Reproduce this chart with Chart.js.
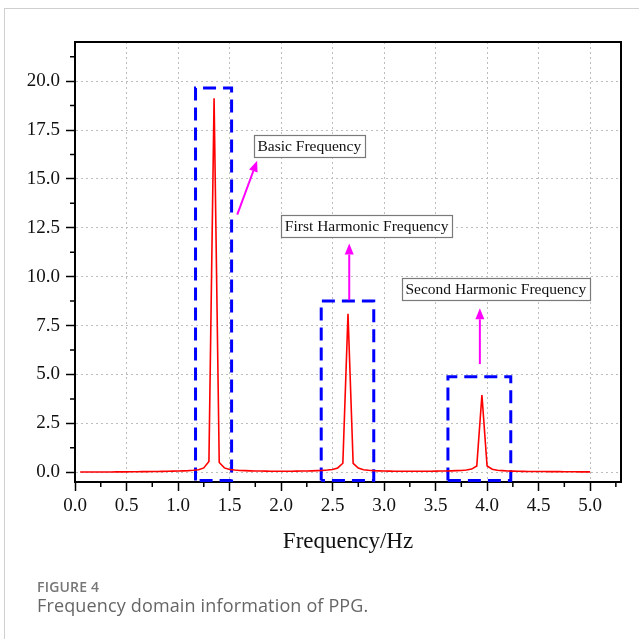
<!DOCTYPE html>
<html>
<head>
<meta charset="utf-8">
<script src="https://cdn.jsdelivr.net/npm/chart.js@4/dist/chart.umd.min.js"></script>
<style>
  html, body { margin: 0; padding: 0; background: #fff; }
  body { width: 639px; height: 639px; position: relative; overflow: hidden; }
  #card { position: absolute; left: 4px; top: 8px; width: 800px; height: 800px; border-left: 1px solid #cfcfcf; border-top: 1px solid #cfcfcf; }
  #c { position: absolute; left: 0; top: 0; }
  .cap1 { position: absolute; left: 37px; top: 580px; font: 600 14px "Open Sans", sans-serif; line-height: 14px; color: #777; letter-spacing: 0.2px; }
  .cap2 { position: absolute; left: 37px; top: 596px; font: 400 18px "Open Sans", sans-serif; line-height: 18px; color: #666; letter-spacing: 0.15px; }
</style>
</head>
<body>
<div id="card"></div>
<canvas id="c" width="639" height="639"></canvas>
<div class="cap1">FIGURE 4</div>
<div class="cap2">Frequency domain information of PPG.</div>
<script>
// ---- data ----
const freq = [0.05,0.10,0.15,0.20,0.25,0.30,0.35,0.40,0.45,0.50,0.55,0.60,0.65,0.70,0.75,0.80,0.85,0.90,0.95,1.00,
  1.05,1.10,1.15,1.20,1.25,1.30,1.35,1.40,1.45,1.50,1.55,1.60,1.65,1.70,1.75,1.80,1.85,1.90,1.95,2.00,
  2.05,2.10,2.15,2.20,2.25,2.30,2.35,2.40,2.45,2.50,2.55,2.60,2.65,2.70,2.75,2.80,2.85,2.90,2.95,3.00,
  3.05,3.10,3.15,3.20,3.25,3.30,3.35,3.40,3.45,3.50,3.55,3.60,3.65,3.70,3.75,3.80,3.85,3.90,3.95,4.00,
  4.05,4.10,4.15,4.20,4.25,4.30,4.35,4.40,4.45,4.50,4.55,4.60,4.65,4.70,4.75,4.80,4.85,4.90,4.95,5.00];
const amplitude = [0.01,0.01,0.01,0.01,0.01,0.015,0.015,0.02,0.02,0.02,0.025,0.025,0.03,0.03,0.035,0.04,0.045,0.05,0.055,0.06,
  0.07,0.08,0.10,0.13,0.22,0.55,19.12,0.50,0.22,0.14,0.11,0.09,0.08,0.07,0.065,0.06,0.055,0.05,0.05,0.05,
  0.05,0.05,0.055,0.06,0.065,0.07,0.08,0.09,0.11,0.14,0.22,0.46,8.10,0.45,0.21,0.13,0.10,0.08,0.07,0.06,
  0.055,0.05,0.05,0.05,0.05,0.05,0.05,0.05,0.05,0.055,0.06,0.065,0.07,0.08,0.09,0.11,0.16,0.32,3.95,0.32,
  0.15,0.10,0.08,0.065,0.055,0.05,0.045,0.04,0.04,0.035,0.035,0.03,0.03,0.03,0.025,0.025,0.025,0.02,0.02,0.02];

const xTicks = [0.0,0.5,1.0,1.5,2.0,2.5,3.0,3.5,4.0,4.5,5.0];
const yTicks = [0.0,2.5,5.0,7.5,10.0,12.5,15.0,17.5,20.0];
const xMinor = [0.25,0.75,1.25,1.75,2.25,2.75,3.25,3.75,4.25,4.75,5.25];
const yMinor = [1.25,3.75,6.25,8.75,11.25,13.75,16.25,18.75,21.25];

// dashed highlight boxes
const boxLeft   = [1.17, 2.39, 3.62];
const boxRight  = [1.52, 2.90, 4.23];
const boxTop    = [19.65, 8.75, 4.88];
const boxBottom = [-0.42, -0.42, -0.42];

// annotation arrows: start -> end (end = arrow tip)
const arrowX0 = [1.575, 2.662, 3.93];
const arrowY0 = [13.17, 8.80, 5.53];
const arrowX1 = [1.768, 2.662, 3.93];
const arrowY1 = [15.93, 11.69, 8.38];

// annotation labels (centre)
const labelText = ["Basic Frequency", "First Harmonic Frequency", "Second Harmonic Frequency"];
const labelX = [2.275, 2.831, 4.085];
const labelY = [16.69, 12.57, 9.39];

// ---- chart ----
const serif = '"Liberation Serif", "Times New Roman", serif';

const boxDatasets = boxLeft.map((x0, i) => ({
  type: 'line',
  data: [
    {x: x0, y: boxBottom[i]}, {x: x0, y: boxTop[i]},
    {x: boxRight[i], y: boxTop[i]}, {x: boxRight[i], y: boxBottom[i]},
    {x: x0, y: boxBottom[i]}
  ],
  borderColor: '#0000ff',
  borderWidth: 3,
  borderDash: [13, 7],
  pointRadius: 0,
  fill: false,
  tension: 0,
  clip: false,
  order: 1
}));

const extras = {
  id: 'extras',
  beforeDatasetsDraw(chart) {
    const {ctx, chartArea: a, scales: {x, y}} = chart;
    ctx.save();
    ctx.strokeStyle = '#000';
    ctx.lineWidth = 2;
    ctx.beginPath();
    ctx.moveTo(a.left - 1, a.top);
    ctx.lineTo(a.right, a.top);
    ctx.lineTo(a.right, a.bottom + 1);
    ctx.stroke();
    ctx.lineWidth = 1.5;
    ctx.beginPath();
    xMinor.forEach(v => { const p = x.getPixelForValue(v); ctx.moveTo(p, a.bottom); ctx.lineTo(p, a.bottom + 5); });
    yMinor.forEach(v => { const p = y.getPixelForValue(v); ctx.moveTo(a.left, p); ctx.lineTo(a.left - 5, p); });
    ctx.stroke();
    ctx.restore();
  },
  afterDatasetsDraw(chart) {
    const {ctx, scales: {x, y}} = chart;
    ctx.save();
    // arrows
    ctx.strokeStyle = '#ff00ff';
    ctx.fillStyle = '#ff00ff';
    ctx.lineWidth = 2;
    arrowX0.forEach((_, i) => {
      const x0 = x.getPixelForValue(arrowX0[i]), y0 = y.getPixelForValue(arrowY0[i]);
      const x1 = x.getPixelForValue(arrowX1[i]), y1 = y.getPixelForValue(arrowY1[i]);
      const ang = Math.atan2(y1 - y0, x1 - x0);
      const hl = 11, hw = 4.5;
      const bx = x1 - hl * Math.cos(ang), by = y1 - hl * Math.sin(ang);
      ctx.beginPath();
      ctx.moveTo(x0, y0);
      ctx.lineTo(bx, by);
      ctx.stroke();
      ctx.beginPath();
      ctx.moveTo(x1, y1);
      ctx.lineTo(bx + hw * Math.sin(ang), by - hw * Math.cos(ang));
      ctx.lineTo(bx - hw * Math.sin(ang), by + hw * Math.cos(ang));
      ctx.closePath();
      ctx.fill();
    });
    // labels
    ctx.font = '15.5px ' + serif;
    ctx.textAlign = 'center';
    ctx.textBaseline = 'middle';
    labelText.forEach((t, i) => {
      const cx = x.getPixelForValue(labelX[i]), cy = y.getPixelForValue(labelY[i]);
      const w = ctx.measureText(t).width + 7, h = 22;
      ctx.fillStyle = '#fff';
      ctx.fillRect(cx - w / 2, cy - h / 2, w, h);
      ctx.strokeStyle = '#7a7a7a';
      ctx.lineWidth = 1.2;
      ctx.strokeRect(Math.round(cx - w / 2) + 0.5, Math.round(cy - h / 2) + 0.5, Math.round(w), h);
      ctx.fillStyle = '#111';
      ctx.fillText(t, cx, cy + 1);
    });
    ctx.restore();
  }
};

new Chart(document.getElementById('c'), {
  type: 'line',
  data: {
    datasets: [{
      data: freq.map((f, i) => ({x: f, y: amplitude[i]})),
      borderColor: '#ff0000',
      borderWidth: 1.6,
      pointRadius: 0,
      fill: false,
      tension: 0,
      order: 0
    }, ...boxDatasets]
  },
  options: {
    responsive: false,
    devicePixelRatio: 1,
    animation: false,
    events: [],
    layout: { padding: { top: 42, right: 18, left: 0, bottom: 0 } },
    plugins: { legend: { display: false }, tooltip: { enabled: false } },
    scales: {
      x: {
        type: 'linear',
        min: 0, max: 5.3,
        afterBuildTicks: s => { s.ticks = xTicks.map(v => ({value: v})); },
        afterFit: s => { s.height = 157; },
        grid: { color: '#bdbdbd', lineWidth: 1, tickColor: '#000', tickLength: 9, tickWidth: 1.5 },
        border: { color: '#000', width: 2, dash: [2, 3] },
        ticks: {
          color: '#111', padding: 4, maxRotation: 0, autoSkip: false,
          font: { family: serif, size: 19 },
          callback: v => Number(v).toFixed(1)
        },
        title: {
          display: true, text: 'Frequency/Hz', color: '#111',
          font: { family: serif, size: 23 },
          padding: { top: 0, bottom: 83 }
        }
      },
      y: {
        type: 'linear',
        min: -0.5, max: 22,
        afterBuildTicks: s => { s.ticks = yTicks.map(v => ({value: v})); },
        afterFit: s => { s.width = 75; },
        grid: { color: '#bdbdbd', lineWidth: 1, tickColor: '#000', tickLength: 9, tickWidth: 1.5 },
        border: { color: '#000', width: 2, dash: [2, 3] },
        ticks: {
          color: '#111', padding: 6, autoSkip: false,
          font: { family: serif, size: 19 },
          callback: v => Number(v).toFixed(1)
        }
      }
    }
  },
  plugins: [extras]
});
</script>
</body>
</html>
